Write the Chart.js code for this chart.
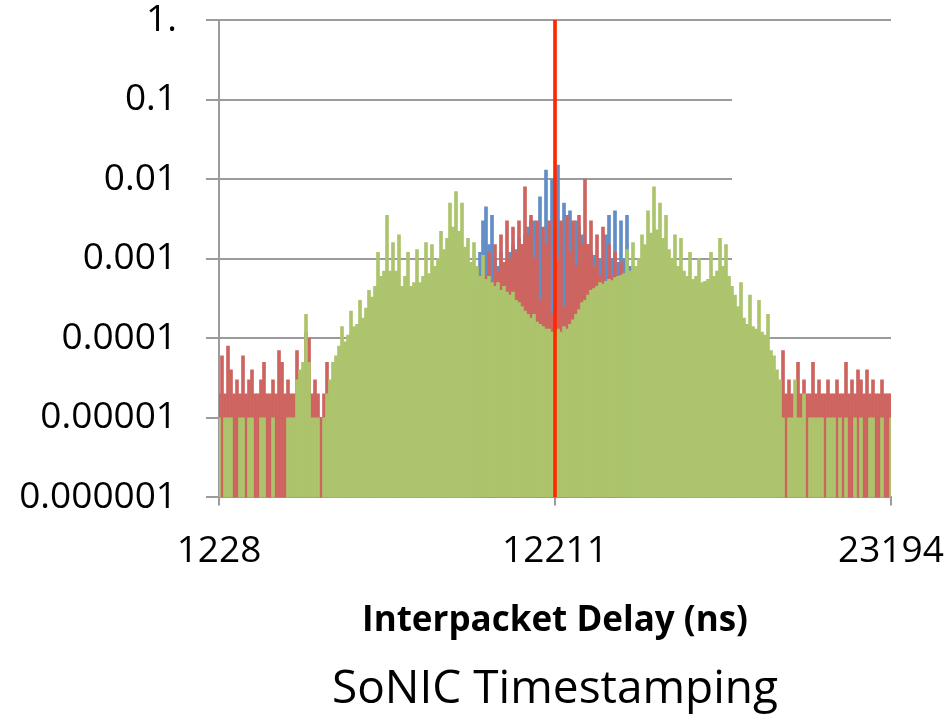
<!DOCTYPE html>
<html>
<head>
<meta charset="utf-8">
<script src="https://cdn.jsdelivr.net/npm/chart.js@4"></script>
<style>
  html, body { margin: 0; padding: 0; background: #fff; }
</style>
</head>
<body>
<canvas id="chart" width="951" height="720"></canvas>
<script>
// histogram bins: 225 bins from 1228 ns to 23194 ns
const binStart = 1228;
const binEnd = 23194;
const binCount = 225;
const xTickLabels = [1228, 12211, 23194];
const markerValue = 12211;

const yTickValues = [1e-6, 1e-5, 1e-4, 1e-3, 1e-2, 1e-1, 1];
const yTickLabels = ["0.000001", "0.00001", "0.0001", "0.001", "0.01", "0.1", "1."];
// where each horizontal gridline stops (ns), the upper ones stop short in the original
const gridEnds = [23194, 23194, 23194, 17960, 17960, 17960, 23194];

// green series, every bin (null = empty bin)
const greenValues = [
  1e-5, null, 1e-5, 1e-5, 1e-5, null, null, 1e-5, 1e-5, null, 1e-5, 1e-5, null, null, 1e-5,
  1e-5, null, null, 1e-5, null, null, null, null, 1e-5, 1e-5, 1e-5, 3e-5, 4e-5, 5e-5, 2e-4,
  5e-5, 1e-5, 1e-5, 1e-5, null, 1e-5, 2e-5, 3e-5, 5e-5, 6e-5, 8e-5, 1.4e-4, 9e-5, 1.1e-4, 2.2e-4,
  1.4e-4, 1.5e-4, 3e-4, 1.8e-4, 2.4e-4, 4e-4, 3.3e-4, 4.5e-4, 1.2e-3, 6e-4, 7e-4, 3.5e-3, 7e-4, 1.6e-3, 7e-4,
  2e-3, 4.5e-4, 6e-4, 1.2e-3, 4.5e-4, 5e-4, 1.3e-3, 5e-4, 6e-4, 1.6e-3, 6.5e-4, 1.5e-3, 8e-4, 1e-3, 2.2e-3,
  1.3e-3, 1.8e-3, 5e-3, 2.5e-3, 7e-3, 2.2e-3, 5e-3, 1.4e-3, 1.8e-3, 9e-4, 1.6e-3, 8e-4, 6e-4, 1.1e-3, 5.5e-4,
  6e-4, 5e-4, 4.5e-4, 5e-4, 4e-4, 4.5e-4, 3.8e-4, 3.5e-4, 3.8e-4, 3e-4, 2.8e-4, 2.5e-4, 2.2e-4, 2e-4, 1.8e-4,
  2e-4, 1.6e-4, 1.5e-4, 1.4e-4, 1.3e-4, 1.3e-4, 1.2e-4, 1.2e-4, 1.3e-4, 1.2e-4, 1.4e-4, 1.3e-4, 1.5e-4, 1.7e-4, 2e-4,
  2.3e-4, 2.8e-4, 3e-4, 3.5e-4, 4e-4, 4.2e-4, 4.5e-4, 5e-4, 4.8e-4, 5.2e-4, 5.5e-4, 5.3e-4, 5.8e-4, 6e-4, 6.2e-4,
  6.5e-4, 1.3e-3, 7e-4, 1.6e-3, 8e-4, 1e-3, 2e-3, 1.5e-3, 4e-3, 2.1e-3, 8e-3, 2.3e-3, 5e-3, 1.8e-3, 3.5e-3,
  1.3e-3, 1e-3, 2e-3, 8e-4, 1.8e-3, 7e-4, 6e-4, 1.2e-3, 5.5e-4, 6e-4, 1e-3, 5e-4, 5.2e-4, 5.5e-4, 1.2e-3,
  6e-4, 7e-4, 1.8e-3, 8e-4, 1.5e-3, 6e-4, 4.5e-4, 3.5e-4, 2.5e-4, 5e-4, 1.8e-4, 1.5e-4, 3.5e-4, 1.4e-4, 1.3e-4,
  3e-4, 1.2e-4, 1.1e-4, 2e-4, 7e-5, 6e-5, 4e-5, 3e-5, 1e-5, null, 1e-5, 1e-5, 3e-5, 1e-5, 1e-5,
  2e-5, null, 1e-5, 1e-5, 1e-5, 1e-5, 1e-5, null, 1e-5, 1e-5, 1e-5, null, 1e-5, null, 1e-5,
  null, null, 1e-5, null, 1e-5, null, null, 1e-5, 1e-5, null, null, 1e-5, null, null, 1e-5
];

// red series, only where it can be seen
const redLeftStart = 0;
const redLeft = [
  2e-5, 6e-5, 2e-5, 8e-5, 4e-5, 2e-5, 3e-5, 2e-5, 6e-5, 2e-5, 3e-5, 4e-5, 2e-5, 2e-5, 3e-5,
  5e-5, 2e-5, 2e-5, 3e-5, 2e-5, 7e-5, 5e-5, 2e-5, 3e-5, 2e-5, 2e-5, 7e-5, 2e-5, 3e-5, 1.2e-4,
  1e-4, 2e-5, 3e-5, 2e-5, 1e-5, 2e-5, 5e-5
];
const redCentreStart = 87;
const redCentre = [
  5e-4, 1e-3, 6e-4,
  1.2e-3, 5e-4, 1.5e-3, 7e-4, 2e-3, 9e-4, 3e-3, 1e-3, 2.5e-3, 1.2e-3, 3e-3, 1.5e-3, 8e-3, 2e-3, 3.5e-3,
  1e-3, 3e-3, 3e-4, 2.5e-3, 1.5e-3, 3e-3, 2e-4, 2.5e-3, 1e-3, 3e-3, 2.5e-4, 3.5e-3, 1.2e-3, 3e-3, 8e-4,
  3.5e-3, 1.5e-3, 1e-2, 1.5e-3, 3e-3, 8e-4, 2e-3, 6e-4, 2.5e-3, 5e-4, 1.5e-3, 6e-4, 1.2e-3, 5e-4, 9e-4,
  5e-4
];
const redRightStart = 187;
const redRight = [
  2e-5, 7e-5, 2e-5, 3e-5, 2e-5, 2e-5, 5e-5, 2e-5,
  3e-5, 2e-5, 2e-5, 5e-5, 2e-5, 3e-5, 2e-5, 2e-5, 3e-5, 2e-5, 2e-5, 3e-5, 2e-5, 2e-5, 5e-5,
  2e-5, 3e-5, 2e-5, 4e-5, 3e-5, 2e-5, 4e-5, 2e-5, 3e-5, 2e-5, 2e-5, 3e-5, 2e-5, 2e-5, 2e-5
];

// blue series, only where it can be seen
const blueStart = 85;
const blueValues = [
  5e-4, 8e-4, 1.2e-3, 3e-3, 4.5e-3, 1.5e-3, 3.5e-3, 1e-3, 8e-4, 1.2e-3, 9e-4, 1e-3, 1.2e-3, 1.5e-3, 1.3e-3,
  1.8e-3, 1.5e-3, 2e-3, 2.5e-3, 3e-3, 3e-3, 2.5e-3, 6e-3, 2e-3, 1.3e-2, 2.5e-3, 1e-2, 2e-3, 1.5e-2, 2.5e-3,
  5e-3, 3e-3, 4e-3, 2.5e-3, 3e-3, 2.5e-3, 2e-3, 1.5e-3, 1.5e-3, 1.2e-3, 1.1e-3, 1e-3, 1e-3, 9e-4, 2e-3,
  3.5e-3, 1e-3, 4e-3, 9e-4, 3e-3, 1e-3, 3.5e-3, 8e-4, 6e-4
];

const binWidth = (binEnd - binStart) / (binCount - 1);
const labels = [];
for (let i = 0; i < binCount; i++) labels.push(Math.round(binStart + i * binWidth));

function placeSegments(segments) {
  const out = new Array(binCount).fill(null);
  segments.forEach(function (seg) {
    seg.values.forEach(function (v, k) { out[seg.start + k] = v; });
  });
  return out;
}

const redData = placeSegments([
  { start: redLeftStart, values: redLeft },
  { start: redCentreStart, values: redCentre },
  { start: redRightStart, values: redRight },
]);
const blueData = placeSegments([{ start: blueStart, values: blueValues }]);
const markerData = labels.map(function (l) { return l === markerValue ? 1 : null; });

const gridColor = "#9b9b9b";
Chart.defaults.font.family = "'Open Sans', sans-serif";
Chart.defaults.color = "#000";

// horizontal gridlines drawn behind the bars, each one ending where gridEnds says
const gridPlugin = {
  id: "hgrid",
  beforeDatasetsDraw: function (chart) {
    const ctx = chart.ctx;
    const x = chart.scales.x;
    const y = chart.scales.y;
    ctx.save();
    ctx.strokeStyle = gridColor;
    ctx.lineWidth = 2;
    yTickValues.forEach(function (v, i) {
      const py = Math.round(y.getPixelForValue(v));
      const endIdx = Math.round((gridEnds[i] - binStart) / binWidth);
      ctx.beginPath();
      ctx.moveTo(chart.chartArea.left, py);
      ctx.lineTo(x.getPixelForValue(endIdx), py);
      ctx.stroke();
    });
    ctx.restore();
  },
};

const data = {
  labels: labels,
  datasets: [
    { data: markerData, backgroundColor: "rgb(255,40,0)", barThickness: 3, grouped: false },
    { data: greenValues, backgroundColor: "rgb(172,196,108)", grouped: false, barPercentage: 1, categoryPercentage: 1 },
    { data: redData, backgroundColor: "rgb(206,100,95)", grouped: false, barPercentage: 1, categoryPercentage: 1 },
    { data: blueData, backgroundColor: "rgb(98,142,200)", grouped: false, barPercentage: 1, categoryPercentage: 1 },
  ],
};

const config = {
  type: "bar",
  data: data,
  plugins: [gridPlugin],
  options: {
    responsive: false,
    animation: false,
    layout: { padding: { left: 0, right: 60, top: 20, bottom: 1 } },
    plugins: {
      legend: { display: false },
      tooltip: { enabled: false },
      title: {
        display: true,
        fullSize: false,
        text: "SoNIC Timestamping",
        position: "bottom",
        font: { size: 46, weight: "normal" },
        padding: { top: 12, bottom: 2 },
      },
    },
    scales: {
      x: {
        offset: false,
        afterBuildTicks: function (scale) {
          scale.ticks = xTickLabels.map(function (l) { return { value: labels.indexOf(l) }; });
        },
        afterFit: function (scale) { scale.paddingLeft = 0; scale.paddingRight = 0; },
        ticks: { autoSkip: false, maxRotation: 0, font: { size: 37 }, padding: 24 },
        grid: { offset: false, drawOnChartArea: false, color: gridColor, lineWidth: 2, tickLength: 8 },
        border: { color: gridColor, width: 2 },
        title: {
          display: true,
          text: "Interpacket Delay (ns)",
          font: { size: 35, weight: "bold" },
          padding: { top: 2, bottom: 8 },
        },
      },
      y: {
        type: "logarithmic",
        min: 1e-6,
        max: 1,
        afterFit: function (scale) { scale.width = 219; scale.paddingTop = 0; scale.paddingBottom = 0; },
        afterBuildTicks: function (scale) {
          scale.ticks = yTickValues.map(function (v) { return { value: v }; });
        },
        ticks: {
          font: { size: 37 },
          padding: 29,
          callback: function (v) { return yTickLabels[yTickValues.indexOf(v)]; },
        },
        grid: { drawOnChartArea: false, color: gridColor, lineWidth: 2, tickLength: 13 },
        border: { color: gridColor, width: 2 },
      },
    },
  },
};

new Chart(document.getElementById("chart"), config);
</script>
</body>
</html>
